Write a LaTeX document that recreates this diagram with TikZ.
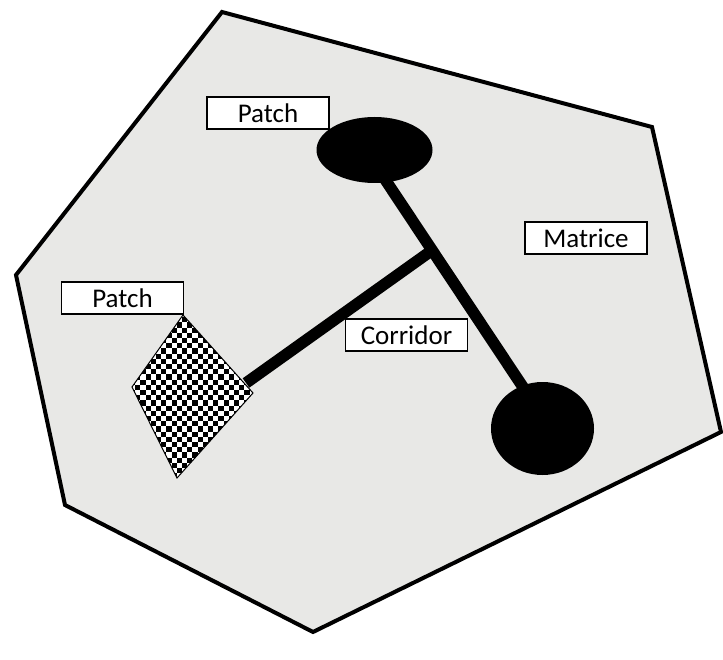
\documentclass[tikz,border=0pt]{standalone}
\usepackage{fontspec}
\setmainfont{Carlito}
\usetikzlibrary{shapes.geometric,calc}
\definecolor{matrixgray}{RGB}{232,232,230}
\tikzset{
  lbl/.style={draw, line width=1.4pt, fill=white, minimum width=122pt, minimum height=32pt, inner sep=0pt, font=\fontsize{27}{30}\selectfont},
  patchblob/.style={ellipse, fill=black, inner sep=0pt},
  corr/.style={line width=11.5pt, black},
  border/.style={line width=4pt, line join=miter, fill=matrixgray}
}
\begin{document}
\begin{tikzpicture}[x=1pt,y=-1pt]
\useasboundingbox (0,0) rectangle (723,660);
% matrix polygon
\coordinate (v1) at (222,12);
\coordinate (v2) at (652,127);
\coordinate (v3) at (721,432);
\coordinate (v4) at (313,632);
\coordinate (v5) at (65,505);
\coordinate (v6) at (16,275);
\draw[border] (v1) -- (v2) -- (v3) -- (v4) -- (v5) -- (v6) -- cycle;
% patches (ellipses)
\node[patchblob, minimum width=116pt, minimum height=66pt] (p1) at (374.5,150) {};
\node[patchblob, minimum width=103pt, minimum height=93pt] (p2) at (542.5,428.5) {};
% corridor
\coordinate (m1) at ($(p1.center)+(-9,0)$);
\coordinate (m2) at ($(p2.center)+(8,0)$);
\coordinate (j) at ($(m1)!0.36!(m2)$);
\coordinate (dend) at (246,383);
\draw[corr] (m1) -- (m2);
\draw[corr] (j) -- (dend);
% checkered patch
\coordinate (d1) at (183,315);
\coordinate (d2) at (253,393);
\coordinate (d3) at (177,478);
\coordinate (d4) at (132,387);
\begin{scope}
  \clip (d1) -- (d2) -- (d3) -- (d4) -- cycle;
  \fill[white] (d1) -- (d2) -- (d3) -- (d4) -- cycle;
  \foreach \i in {0,...,25}{
    \foreach \j in {0,...,33}{
      \ifodd\numexpr\i+\j\relax
        \fill[black] (130+\i*5.2, 312+\j*5.2) rectangle ++(5.2,5.2);
      \fi
    }
  }
\end{scope}
\draw[line width=1pt] (d1) -- (d2) -- (d3) -- (d4) -- cycle;
% labels
\node[lbl] (lp1) at (268,113) {Patch};
\node[lbl] (lp2) at (122.5,298) {Patch};
\node[lbl] (lc) at (406.5,335) {Corridor};
\node[lbl] (lm) at (586,238) {Matrice};
\end{tikzpicture}
\end{document}
